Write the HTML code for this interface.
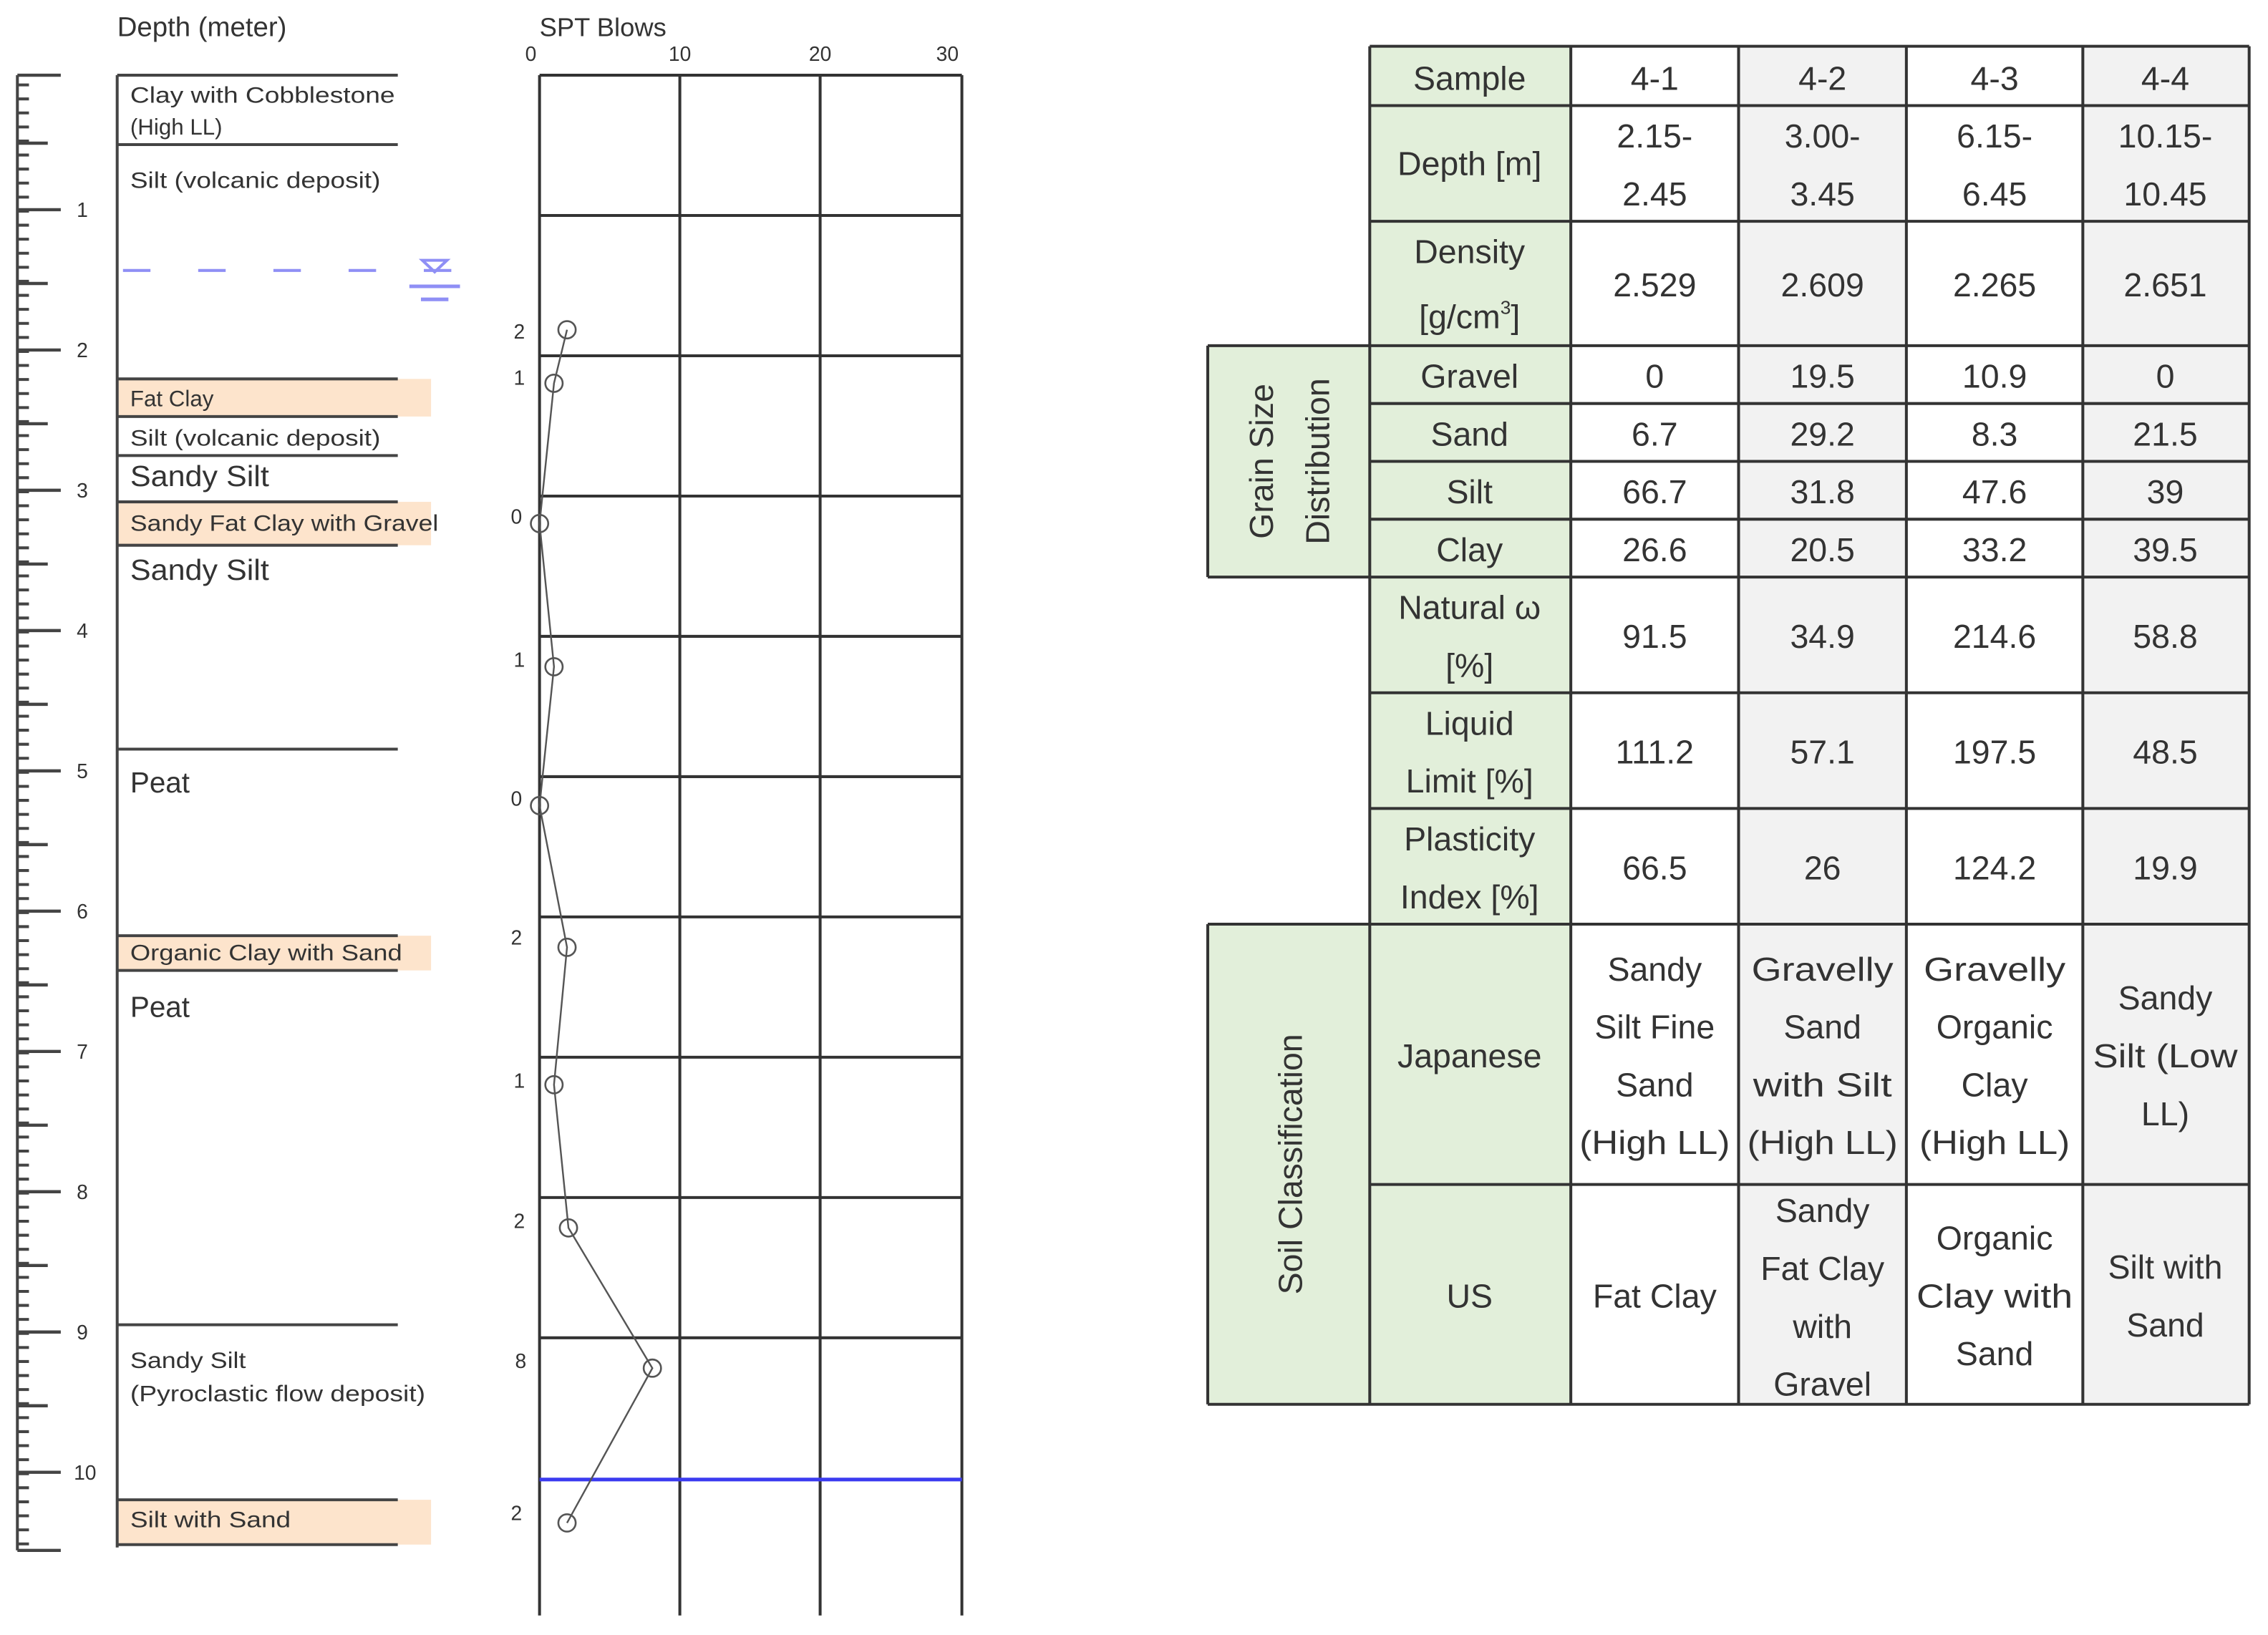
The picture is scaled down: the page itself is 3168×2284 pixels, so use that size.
<!DOCTYPE html>
<html><head><meta charset="utf-8"><style>
html,body{margin:0;padding:0;background:#fff;}
svg{display:block;}
text{font-family:"Liberation Sans",sans-serif;fill:#333;}
</style></head><body>
<svg width="3168" height="2284" viewBox="0 0 1568 1130.5" xmlns="http://www.w3.org/2000/svg">
<rect width="1568" height="1131" fill="#fff"/>
<!-- Titles -->
<text x="81" y="25" font-size="19">Depth (meter)</text>
<text x="373" y="25" font-size="18">SPT Blows</text>
<text x="367" y="42" font-size="14" text-anchor="middle">0</text>
<text x="470" y="42" font-size="14" text-anchor="middle">10</text>
<text x="567" y="42" font-size="14" text-anchor="middle">20</text>
<text x="655" y="42" font-size="14" text-anchor="middle">30</text>

<!-- Ruler -->
<g stroke="#444">
<line x1="12" y1="52" x2="12" y2="1072" stroke-width="2"/>
<line x1="16" y1="52" x2="16" y2="1072" stroke-width="8" stroke-dasharray="2 7.7" stroke-dashoffset="-5.7"/>
<g stroke-width="2.2">
<line x1="12" y1="52" x2="42" y2="52"/>
<line x1="12" y1="145" x2="42" y2="145"/><line x1="12" y1="242" x2="42" y2="242"/>
<line x1="12" y1="339" x2="42" y2="339"/><line x1="12" y1="436" x2="42" y2="436"/>
<line x1="12" y1="533" x2="42" y2="533"/><line x1="12" y1="630" x2="42" y2="630"/>
<line x1="12" y1="727" x2="42" y2="727"/><line x1="12" y1="824" x2="42" y2="824"/>
<line x1="12" y1="921" x2="42" y2="921"/><line x1="12" y1="1018" x2="42" y2="1018"/>
<line x1="12" y1="1072" x2="42" y2="1072"/>
<line x1="12" y1="99" x2="33" y2="99"/><line x1="12" y1="196" x2="33" y2="196"/>
<line x1="12" y1="293" x2="33" y2="293"/><line x1="12" y1="390" x2="33" y2="390"/>
<line x1="12" y1="487" x2="33" y2="487"/><line x1="12" y1="584" x2="33" y2="584"/>
<line x1="12" y1="681" x2="33" y2="681"/><line x1="12" y1="778" x2="33" y2="778"/>
<line x1="12" y1="875" x2="33" y2="875"/><line x1="12" y1="972" x2="33" y2="972"/>
</g></g>
<g font-size="14">
<text x="53" y="150">1</text><text x="53" y="247">2</text><text x="53" y="344">3</text>
<text x="53" y="441">4</text><text x="53" y="538">5</text><text x="53" y="635">6</text>
<text x="53" y="732">7</text><text x="53" y="829">8</text><text x="53" y="926">9</text>
<text x="51" y="1023">10</text>
</g>

<!-- Layer column -->
<g fill="#fde4cc">
<rect x="82" y="262" width="216" height="26"/>
<rect x="82" y="347" width="216" height="30"/>
<rect x="82" y="647" width="216" height="24"/>
<rect x="82" y="1037" width="216" height="31"/>
</g>
<g stroke="#444" stroke-width="2">
<line x1="81" y1="52" x2="81" y2="1070"/>
<line x1="81" y1="52" x2="275" y2="52"/><line x1="81" y1="100" x2="275" y2="100"/>
<line x1="81" y1="262" x2="275" y2="262"/><line x1="81" y1="288" x2="275" y2="288"/>
<line x1="81" y1="315" x2="275" y2="315"/><line x1="81" y1="347" x2="275" y2="347"/>
<line x1="81" y1="377" x2="275" y2="377"/><line x1="81" y1="518" x2="275" y2="518"/>
<line x1="81" y1="647" x2="275" y2="647"/><line x1="81" y1="671" x2="275" y2="671"/>
<line x1="81" y1="916" x2="275" y2="916"/><line x1="81" y1="1037" x2="275" y2="1037"/>
<line x1="81" y1="1068" x2="275" y2="1068"/>
</g>
<g font-size="15.5">
<text x="90" y="71" textLength="183" lengthAdjust="spacingAndGlyphs">Clay with Cobblestone</text>
<text x="90" y="93">(High LL)</text>
<text x="90" y="130" textLength="173" lengthAdjust="spacingAndGlyphs">Silt (volcanic deposit)</text>
<text x="90" y="281" fill="#8a6a50">Fat Clay</text>
<text x="90" y="308" textLength="173" lengthAdjust="spacingAndGlyphs">Silt (volcanic deposit)</text>
<text x="90" y="336" font-size="20" textLength="96" lengthAdjust="spacingAndGlyphs">Sandy Silt</text>
<text x="90" y="367" fill="#8a6a50" textLength="213" lengthAdjust="spacingAndGlyphs">Sandy Fat Clay with Gravel</text>
<text x="90" y="401" font-size="20" textLength="96" lengthAdjust="spacingAndGlyphs">Sandy Silt</text>
<text x="90" y="548" font-size="20">Peat</text>
<text x="90" y="664" fill="#8a6a50" textLength="188" lengthAdjust="spacingAndGlyphs">Organic Clay with Sand</text>
<text x="90" y="703" font-size="20">Peat</text>
<text x="90" y="946" textLength="80" lengthAdjust="spacingAndGlyphs">Sandy Silt</text>
<text x="90" y="969" textLength="204" lengthAdjust="spacingAndGlyphs">(Pyroclastic flow deposit)</text>
<text x="90" y="1056" fill="#8a6a50" textLength="111" lengthAdjust="spacingAndGlyphs">Silt with Sand</text>
</g>

<!-- Water table -->
<g stroke="#8f8ff5" stroke-width="2" fill="none">
<line x1="82" y1="187" x2="325" y2="187" stroke-dasharray="0 3 19 30"/>
<path d="M292 180 L309 180 L300.5 188 Z"/>
<line x1="283" y1="198" x2="318" y2="198" stroke-width="2.5"/>
<line x1="291" y1="207" x2="310" y2="207" stroke-width="2.5"/>
</g>

<!-- SPT grid -->
<g stroke="#333" stroke-width="2">
<line x1="373" y1="52" x2="373" y2="1117"/><line x1="470" y1="52" x2="470" y2="1117"/>
<line x1="567" y1="52" x2="567" y2="1117"/><line x1="665" y1="52" x2="665" y2="1117"/>
<line x1="373" y1="52" x2="665" y2="52"/><line x1="373" y1="149" x2="665" y2="149"/>
<line x1="373" y1="246" x2="665" y2="246"/><line x1="373" y1="343" x2="665" y2="343"/>
<line x1="373" y1="440" x2="665" y2="440"/><line x1="373" y1="537" x2="665" y2="537"/>
<line x1="373" y1="634" x2="665" y2="634"/><line x1="373" y1="731" x2="665" y2="731"/>
<line x1="373" y1="828" x2="665" y2="828"/><line x1="373" y1="925" x2="665" y2="925"/>
</g>
<line x1="373" y1="1023" x2="665" y2="1023" stroke="#3b3bf0" stroke-width="2.5"/>
<polyline points="392,228 383,265 373,362 383,461 373,557 392,655 383,750 393,849 451,946 392,1053" fill="none" stroke="#555" stroke-width="1.2"/>
<g fill="none" stroke="#555" stroke-width="1.3">
<circle cx="392" cy="228" r="6"/><circle cx="383" cy="265" r="6"/><circle cx="373" cy="362" r="6"/>
<circle cx="383" cy="461" r="6"/><circle cx="373" cy="557" r="6"/><circle cx="392" cy="655" r="6"/>
<circle cx="383" cy="750" r="6"/><circle cx="393" cy="849" r="6"/><circle cx="451" cy="946" r="6"/>
<circle cx="392" cy="1053" r="6"/>
</g>
<g font-size="14" text-anchor="middle">
<text x="359" y="234">2</text><text x="359" y="266">1</text><text x="357" y="362">0</text>
<text x="359" y="461">1</text><text x="357" y="557">0</text><text x="357" y="653">2</text>
<text x="359" y="752">1</text><text x="359" y="849">2</text><text x="360" y="946">8</text>
<text x="357" y="1051">2</text>
</g>

<!-- Table backgrounds -->
<g fill="#e2efda">
<rect x="947" y="32" width="139" height="607"/>
<rect x="835" y="239" width="112" height="160"/>
<rect x="835" y="639" width="251" height="332"/>
</g>
<g fill="#f2f2f2">
<rect x="1202" y="32" width="116" height="939"/>
<rect x="1440" y="32" width="115" height="939"/>
</g>
<g stroke="#333" stroke-width="2" fill="none">
<line x1="947" y1="32" x2="1555" y2="32"/>
<line x1="947" y1="73" x2="1555" y2="73"/>
<line x1="947" y1="153" x2="1555" y2="153"/>
<line x1="835" y1="239" x2="1555" y2="239"/>
<line x1="947" y1="279" x2="1555" y2="279"/>
<line x1="947" y1="319" x2="1555" y2="319"/>
<line x1="947" y1="359" x2="1555" y2="359"/>
<line x1="835" y1="399" x2="1555" y2="399"/>
<line x1="947" y1="479" x2="1555" y2="479"/>
<line x1="947" y1="559" x2="1555" y2="559"/>
<line x1="835" y1="639" x2="1555" y2="639"/>
<line x1="947" y1="819" x2="1555" y2="819"/>
<line x1="835" y1="971" x2="1555" y2="971"/>
<line x1="835" y1="239" x2="835" y2="399"/>
<line x1="835" y1="639" x2="835" y2="971"/>
<line x1="947" y1="32" x2="947" y2="971"/>
<line x1="1086" y1="32" x2="1086" y2="971"/>
<line x1="1202" y1="32" x2="1202" y2="971"/>
<line x1="1318" y1="32" x2="1318" y2="971"/>
<line x1="1440" y1="32" x2="1440" y2="971"/>
<line x1="1555" y1="32" x2="1555" y2="971"/>
</g>
<g font-size="23" text-anchor="middle">
<text x="1016" y="62">Sample</text><text x="1144" y="62">4-1</text><text x="1260" y="62">4-2</text><text x="1379" y="62">4-3</text><text x="1497" y="62">4-4</text>
<text x="1016" y="121">Depth [m]</text>
<text x="1144" y="102">2.15-</text><text x="1144" y="142">2.45</text>
<text x="1260" y="102">3.00-</text><text x="1260" y="142">3.45</text>
<text x="1379" y="102">6.15-</text><text x="1379" y="142">6.45</text>
<text x="1497" y="102">10.15-</text><text x="1497" y="142">10.45</text>
<text x="1016" y="182">Density</text><text x="1016" y="227">[g/cm<tspan font-size="13" dy="-10">3</tspan><tspan dy="10">]</tspan></text>
<text x="1144" y="205">2.529</text><text x="1260" y="205">2.609</text><text x="1379" y="205">2.265</text><text x="1497" y="205">2.651</text>
<text x="1016" y="268">Gravel</text><text x="1144" y="268">0</text><text x="1260" y="268">19.5</text><text x="1379" y="268">10.9</text><text x="1497" y="268">0</text>
<text x="1016" y="308">Sand</text><text x="1144" y="308">6.7</text><text x="1260" y="308">29.2</text><text x="1379" y="308">8.3</text><text x="1497" y="308">21.5</text>
<text x="1016" y="348">Silt</text><text x="1144" y="348">66.7</text><text x="1260" y="348">31.8</text><text x="1379" y="348">47.6</text><text x="1497" y="348">39</text>
<text x="1016" y="388">Clay</text><text x="1144" y="388">26.6</text><text x="1260" y="388">20.5</text><text x="1379" y="388">33.2</text><text x="1497" y="388">39.5</text>
<text x="1016" y="428">Natural ω</text><text x="1016" y="468">[%]</text>
<text x="1144" y="448">91.5</text><text x="1260" y="448">34.9</text><text x="1379" y="448">214.6</text><text x="1497" y="448">58.8</text>
<text x="1016" y="508">Liquid</text><text x="1016" y="548">Limit [%]</text>
<text x="1144" y="528">111.2</text><text x="1260" y="528">57.1</text><text x="1379" y="528">197.5</text><text x="1497" y="528">48.5</text>
<text x="1016" y="588">Plasticity</text><text x="1016" y="628">Index [%]</text>
<text x="1144" y="608">66.5</text><text x="1260" y="608">26</text><text x="1379" y="608">124.2</text><text x="1497" y="608">19.9</text>
<text x="1016" y="738">Japanese</text>
<text x="1144" y="678">Sandy</text><text x="1144" y="718">Silt Fine</text><text x="1144" y="758">Sand</text><text x="1144" y="798" textLength="104" lengthAdjust="spacingAndGlyphs">(High LL)</text>
<text x="1260" y="678" textLength="98" lengthAdjust="spacingAndGlyphs">Gravelly</text><text x="1260" y="718">Sand</text><text x="1260" y="758" textLength="96" lengthAdjust="spacingAndGlyphs">with Silt</text><text x="1260" y="798" textLength="104" lengthAdjust="spacingAndGlyphs">(High LL)</text>
<text x="1379" y="678" textLength="98" lengthAdjust="spacingAndGlyphs">Gravelly</text><text x="1379" y="718">Organic</text><text x="1379" y="758">Clay</text><text x="1379" y="798" textLength="104" lengthAdjust="spacingAndGlyphs">(High LL)</text>
<text x="1497" y="698">Sandy</text><text x="1497" y="738" textLength="100" lengthAdjust="spacingAndGlyphs">Silt (Low</text><text x="1497" y="778">LL)</text>
<text x="1016" y="904">US</text>
<text x="1144" y="904">Fat Clay</text>
<text x="1260" y="845">Sandy</text><text x="1260" y="885">Fat Clay</text><text x="1260" y="925">with</text><text x="1260" y="965">Gravel</text>
<text x="1379" y="864">Organic</text><text x="1379" y="904" textLength="108" lengthAdjust="spacingAndGlyphs">Clay with</text><text x="1379" y="944">Sand</text>
<text x="1497" y="884">Silt with</text><text x="1497" y="924">Sand</text>
</g>
<g font-size="23" text-anchor="middle" font-weight="normal">
<text transform="translate(880,319) rotate(-90)">Grain Size</text>
<text transform="translate(919,319) rotate(-90)">Distribution</text>
<text transform="translate(900,805) rotate(-90)">Soil Classification</text>
</g>
</svg>
</body></html>
